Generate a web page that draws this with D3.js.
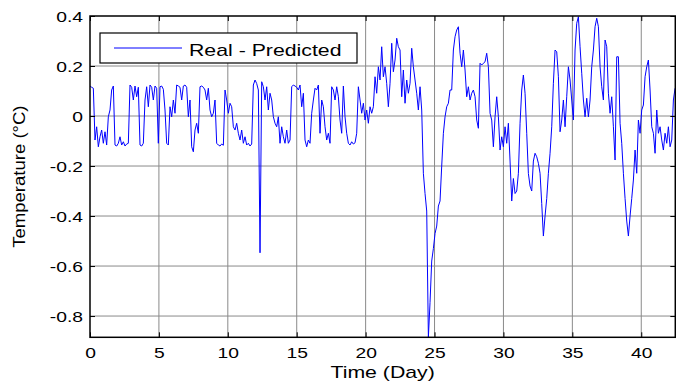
<!DOCTYPE html>
<html>
<head>
<meta charset="utf-8">
<script src="https://cdn.jsdelivr.net/npm/d3@7"></script>
<style>
  body { margin: 0; background: #fff; }
  svg { display: block; }
  text { font-family: "Liberation Sans", Arial, Helvetica, sans-serif; fill: #000; }
</style>
</head>
<body>
<svg id="chart" width="676" height="381"></svg>
<script>
// Tick positions and labels
const xTicks = [0, 5, 10, 15, 20, 25, 30, 35, 40];
const yTicks = [-0.8, -0.6, -0.4, -0.2, 0, 0.2, 0.4];
const yTickLabels = ["-0.8", "-0.6", "-0.4", "-0.2", "0", "0.2", "0.4"];

// Series: real minus predicted temperature (°C), one reading every sampleStep days
const seriesName = "Real - Predicted";
const sampleStep = 0.12095;
const residual = [
   0.120,  0.115,  0.111, -0.096, -0.043, -0.123, -0.083, -0.056, -0.109, -0.063,
  -0.116, -0.003,  0.024,  0.104,  0.120, -0.116, -0.120, -0.109, -0.083, -0.116,
  -0.103, -0.120, -0.112, -0.109,  0.124,  0.115,  0.064,  0.120,  0.077,  0.115,
  -0.116, -0.120, -0.109,  0.064,  0.117,  0.037,  0.124,  0.115,  0.064,  0.120,
   0.111, -0.109,  0.117,  0.120,  0.107,  0.024, -0.109, -0.116,  0.037, -0.003,
   0.064,  0.011,  0.124,  0.120,  0.115,  0.064,  0.120,  0.124,  0.115, -0.003,
   0.064, -0.123, -0.143, -0.056, -0.029, -0.069,  0.117,  0.120,  0.115,  0.104,
   0.064,  0.111,  0.024, -0.003,  0.011,  0.064, -0.109, -0.116, -0.120, -0.112,
  -0.117,  0.104,  0.064,  0.011,  0.051,  0.037, -0.043, -0.056, -0.029, -0.069,
  -0.096, -0.056, -0.109, -0.083, -0.116, -0.109, -0.120, -0.112,  0.124,  0.144,
   0.130,  0.104, -0.547,  0.137,  0.117,  0.064,  0.117,  0.024,  0.091,  0.064,
  -0.003, -0.029, -0.043, -0.003, -0.109, -0.043, -0.083, -0.109, -0.056, -0.109,
  -0.096,  0.117,  0.124,  0.120,  0.115,  0.104,  0.124,  0.037,  0.091, -0.096,
  -0.123, -0.096, -0.109,  0.011,  0.064,  0.111,  0.104,  0.124, -0.069,  0.064,
   0.037, -0.043, -0.096, -0.069, -0.109,  0.117,  0.104,  0.064,  0.117,  0.077,
  -0.016, -0.069,  0.120, -0.003, -0.069, -0.109, -0.116, -0.103, -0.112, -0.107,
  -0.069,  0.117,  0.064,  0.011,  0.051, -0.016,  0.024, -0.029,  0.037,  0.011,
   0.037,  0.157,  0.091,  0.197,  0.144,  0.277,  0.157,  0.197,  0.131,  0.037,
   0.131,  0.291,  0.177,  0.224,  0.311,  0.277,  0.264,  0.077,  0.184,  0.051,
   0.144,  0.091,  0.131,  0.271,  0.197,  0.144,  0.091,  0.024,  0.117,  0.024,
  -0.229, -0.310, -0.380, -0.885, -0.745, -0.580, -0.530, -0.470, -0.440, -0.360,
  -0.340, -0.200, -0.069, -0.003,  0.037,  0.051,  0.104,  0.104,  0.264,  0.317,
   0.344,  0.357,  0.251,  0.197,  0.264,  0.184,  0.077,  0.117,  0.064,  0.091,
   0.104,  0.077, -0.016, -0.049,  0.211,  0.204,  0.211,  0.217,  0.251,  0.197,
   0.011, -0.016, -0.123, -0.003,  0.077, -0.003, -0.136, -0.083, -0.123, -0.043,
  -0.109, -0.029, -0.180, -0.340, -0.250, -0.310, -0.300, -0.229, -0.029,  0.104,
   0.164,  0.091, -0.069, -0.230, -0.280, -0.300, -0.180, -0.149, -0.163, -0.189,
  -0.229, -0.350, -0.480, -0.400, -0.330, -0.229, -0.149, -0.043,  0.131,  0.264,
   0.257,  0.157, -0.063, -0.016,  0.064, -0.043,  0.077,  0.197,  0.144,  0.064,
  -0.016,  0.264,  0.371,  0.397,  0.277,  0.171,  0.064, -0.003,  0.071, -0.003,
   0.064,  0.197,  0.264,  0.357,  0.391,  0.357,  0.197,  0.117,  0.064,  0.304,
   0.277,  0.091,  0.011,  0.077, -0.043, -0.176,  0.237,  0.237, -0.029, -0.109,
  -0.229, -0.330, -0.420, -0.480, -0.400, -0.330, -0.256, -0.136, -0.229, -0.016,
  -0.069,  0.024,  0.044,  0.157,  0.197,  0.224,  0.104, -0.043, -0.069, -0.149,
   0.024, -0.069, -0.043, -0.096, -0.136, -0.069, -0.109, -0.043, -0.123, -0.096,
   0.064,  0.111
];

const xDomain = [0, 42.47];
const yDomain = [-0.885, 0.4];

const svg = d3.select("#chart");
const W = 676, H = 381;
const m = { left: 90, right: 0.7, top: 16, bottom: 43.7 };
const pw = W - m.left - m.right;
const ph = H - m.top - m.bottom;

const x = d3.scaleLinear().domain(xDomain).range([0, pw]);
const y = d3.scaleLinear().domain(yDomain).range([ph, 0]);

const TEXT_SX = 1.33;

const g = svg.append("g").attr("transform", `translate(${m.left},${m.top})`);

svg.append("defs").append("clipPath").attr("id", "plotClip")
  .append("rect").attr("x", 0).attr("y", 0).attr("width", pw).attr("height", ph);

// Grid
g.append("g").selectAll("line.vx").data(xTicks.filter(d => d > 0)).join("line")
  .attr("x1", d => x(d)).attr("x2", d => x(d))
  .attr("y1", 0).attr("y2", ph)
  .attr("stroke", "#8a8a8a").attr("stroke-width", 1);
g.append("g").selectAll("line.hy").data(yTicks.filter(d => d < 0.4)).join("line")
  .attr("x1", 0).attr("x2", pw)
  .attr("y1", d => y(d)).attr("y2", d => y(d))
  .attr("stroke", "#8a8a8a").attr("stroke-width", 1);

// Series line
const line = d3.line()
  .x((d, i) => x(i * sampleStep))
  .y(d => y(d));
g.append("path")
  .datum(residual)
  .attr("clip-path", "url(#plotClip)")
  .attr("fill", "none")
  .attr("stroke", "#0000ff")
  .attr("stroke-width", 1)
  .attr("stroke-linejoin", "round")
  .attr("d", line);

// Axes with inward ticks on all four sides
const xAxisB = d3.axisBottom(x).tickValues(xTicks).tickSizeInner(-5).tickSizeOuter(0).tickFormat(d3.format("d"));
const xAxisT = d3.axisTop(x).tickValues(xTicks).tickSizeInner(-5).tickSizeOuter(0).tickFormat("");
const yAxisL = d3.axisLeft(y).tickValues(yTicks).tickSizeInner(-5).tickSizeOuter(0)
  .tickFormat((d, i) => yTickLabels[i]);
const yAxisR = d3.axisRight(y).tickValues(yTicks).tickSizeInner(-5).tickSizeOuter(0).tickFormat("");

const gxB = g.append("g").attr("transform", `translate(0,${ph})`).call(xAxisB);
const gxT = g.append("g").call(xAxisT);
const gyL = g.append("g").call(yAxisL);
const gyR = g.append("g").attr("transform", `translate(${pw},0)`).call(yAxisR);

[gxB, gxT, gyL, gyR].forEach(a => {
  a.select(".domain").remove();
  a.selectAll(".tick line").attr("stroke", "#000").attr("stroke-width", 1);
});

gxB.selectAll(".tick text")
  .attr("y", 0).attr("dy", 0)
  .attr("transform", `translate(0,21) scale(${TEXT_SX},1)`)
  .style("font-size", "14.5px");
gyL.selectAll(".tick text")
  .attr("x", 0).attr("dy", 0)
  .attr("transform", `translate(-7,5.2) scale(${TEXT_SX},1)`)
  .style("font-size", "14.5px");

// Axes box
g.append("rect")
  .attr("x", 0).attr("y", 0).attr("width", pw).attr("height", ph)
  .attr("fill", "none").attr("stroke", "#000").attr("stroke-width", 1.5);

// Axis titles
svg.append("text")
  .attr("transform", `translate(${m.left + pw / 2},378) scale(${TEXT_SX},1)`)
  .attr("text-anchor", "middle")
  .style("font-size", "16px")
  .text("Time (Day)");
svg.append("text")
  .attr("transform", `translate(25,${m.top + ph / 2}) rotate(-90) scale(1.16,1)`)
  .attr("text-anchor", "middle")
  .style("font-size", "16px")
  .text("Temperature (\u00B0C)");

// Legend
const lg = svg.append("g");
lg.append("rect")
  .attr("x", 100).attr("y", 33).attr("width", 257).attr("height", 30)
  .attr("fill", "#fff").attr("stroke", "#000").attr("stroke-width", 1.2);
lg.append("line")
  .attr("x1", 114).attr("x2", 182).attr("y1", 48).attr("y2", 48)
  .attr("stroke", "#0000ff").attr("stroke-width", 1);
lg.append("text")
  .attr("transform", `translate(189,55.5) scale(${TEXT_SX},1)`)
  .style("font-size", "16px")
  .text(seriesName);
</script>
</body>
</html>
